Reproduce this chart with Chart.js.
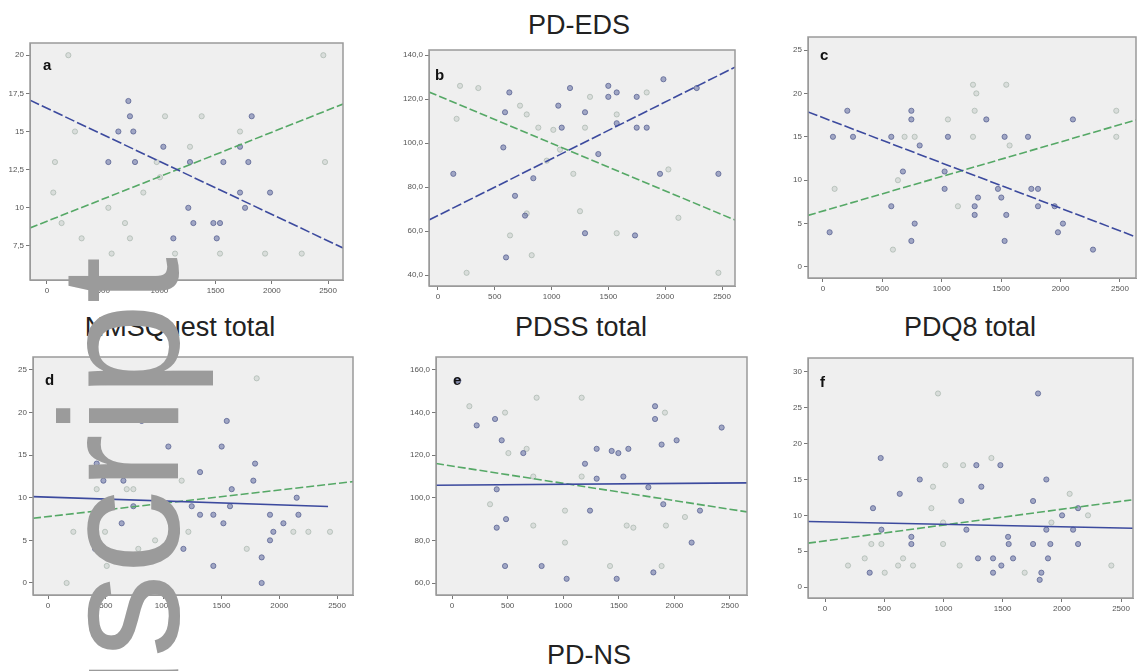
<!DOCTYPE html>
<html>
<head>
<meta charset="utf-8">
<script src="https://cdn.jsdelivr.net/npm/chart.js@4.4.1/dist/chart.umd.min.js"></script>
<style>
  body { margin: 0; width: 1138px; height: 671px; overflow: hidden; background: #fff; position: relative;
         font-family: 'Liberation Sans', Arial, sans-serif; }
  canvas { position: absolute; }
  .ttl { position: absolute; font-size: 27px; line-height: 1; color: #222; white-space: nowrap; transform: translateX(-50%); }
  .lt { position: absolute; font-size: 15px; line-height: 1; font-weight: bold; color: #111; }
  #wm { position: absolute; left: 0; top: 0; font-size: 168px; line-height: 1; color: #9b9b9b;
        white-space: nowrap; transform-origin: 0 0; z-index: 5; }
</style>
</head>
<body>
<div class="ttl" style="left:579px;top:12px">PD-EDS</div>
<div class="ttl" style="left:180px;top:314px">NMSQuest total</div>
<div class="ttl" style="left:581px;top:314px">PDSS total</div>
<div class="ttl" style="left:970px;top:314px">PDQ8 total</div>
<div class="ttl" style="left:589px;top:642px">PD-NS</div>

<canvas id="pa"></canvas><canvas id="pb"></canvas><canvas id="pc"></canvas>
<canvas id="pd"></canvas><canvas id="pe"></canvas><canvas id="pf"></canvas>

<div class="lt" style="left:43px;top:57px">a</div>
<div class="lt" style="left:435px;top:67px">b</div>
<div class="lt" style="left:820px;top:47px">c</div>
<div class="lt" style="left:45px;top:372px">d</div>
<div class="lt" style="left:453px;top:372px">e</div>
<div class="lt" style="left:820px;top:374px">f</div>

<div id="wm"><span id="wmPre">Author Manu</span>script</div>

<script>
// tick labels
const xTicks = [0, 500, 1000, 1500, 2000, 2500];
const yTicksA = [7.5, 10, 12.5, 15, 17.5, 20];
const yTicksB = [40, 60, 80, 100, 120, 140];
const yTicksC = [0, 5, 10, 15, 20, 25];
const yTicksD = [0, 5, 10, 15, 20, 25];
const yTicksE = [60, 80, 100, 120, 140, 160];
const yTicksF = [0, 5, 10, 15, 20, 25, 30];

// panel a
const aBlue = [[724,17],[738,16],[1821,16],[635,15],[768,15],[1035,14],[1717,14],[546,13],[783,13],[1272,13],[1569,13],[1791,13],
  [1717,11],[1984,11],[1257,10],[1762,10],[1302,9],[1480,9],[1539,9],[1124,8],[1510,8]];
const aGreen = [[190,20],[2458,20],[1050,16],[1376,16],[249,15],[1717,15],[1272,14],[71,13],[976,13],[2473,13],[1005,12],[56,11],
  [857,11],[546,10],[130,9],[694,9],[308,8],[738,8],[575,7],[1139,7],[1539,7],[1940,7],[2266,7]];
const aBlueFit = [[-151,17.05],[2633,7.37]];
const aGreenFit = [[-151,8.68],[2633,16.8]];

// panel b
const bBlue = [[135,86],[590,114],[628,123],[1059,117],[1089,107],[1162,125],[1294,114],[1411,95],[1499,126],[1573,123],[1499,121],
  [1573,109],[1749,121],[1749,107],[1837,107],[1954,86],[1984,129],[2277,125],[2468,86],[678,76],[766,67],[839,84],[1294,59],
  [1734,58],[575,98],[599,48]];
const bGreen = [[194,126],[355,125],[722,117],[781,113],[1015,106],[1338,121],[1294,107],[1573,113],[1837,123],[164,111],[883,107],
  [1191,86],[2028,88],[781,68],[1250,69],[2116,66],[634,58],[1573,59],[825,49],[252,41],[2468,41],[1074,97],[957,92]];
const bBlueFit = [[-79,65],[2614,134.5]];
const bGreenFit = [[-79,123.2],[2614,65]];

// panel c
const cBlue = [[205,18],[84,15],[253,15],[744,18],[744,17],[814,14],[575,15],[1052,15],[1375,17],[1529,15],[1726,15],[1024,11],
  [1024,9],[673,11],[1473,9],[1754,9],[1810,9],[1501,8],[1305,8],[575,7],[1277,7],[1277,6],[1543,6],[1810,7],[1950,7],[772,5],
  [2020,5],[56,4],[744,3],[1529,3],[1978,4],[2273,2],[2104,17]];
const cGreen = [[687,15],[772,15],[1052,17],[1263,21],[1277,18],[1263,15],[1543,21],[1571,14],[2469,18],[2469,15],[631,10],[98,9],
  [1136,7],[589,2],[1291,20]];
const cBlueFit = [[-126,17.86],[2635,3.46]];
const cGreenFit = [[-126,5.94],[2635,16.94]];

// panel d
const dBlue = [[810,19],[1546,19],[1041,16],[1502,16],[421,14],[1791,14],[479,12],[652,12],[1315,13],[1776,12],[1589,11],[2151,10],
  [738,9],[1243,9],[1574,9],[1920,8],[2166,8],[1315,8],[1430,8],[1517,7],[2036,7],[637,7],[1949,6],[1920,5],[407,4],[1171,4],
  [1848,3],[1430,2],[1848,0]];
const dGreen = [[983,24],[1805,24],[1156,12],[421,11],[681,11],[738,11],[998,9],[219,6],[493,6],[1214,6],[2122,6],[2252,6],[2439,6],
  [926,5],[1719,4],[161,0],[508,2],[781,4]];
const dBlueFit = [[-130,10.13],[2422,8.96]];
const dGreenFit = [[-130,7.59],[2638,11.89]];

// panel e
const eBlue = [[57,155],[387,137],[222,134],[1826,143],[1826,137],[2425,133],[447,127],[2020,127],[1885,125],[641,121],[1301,123],
  [1436,122],[1496,121],[1586,123],[1196,116],[1301,109],[1541,110],[1766,105],[402,104],[1900,97],[2230,94],[486,90],[1241,94],
  [402,86],[2155,79],[477,68],[806,68],[1031,62],[1481,62],[1811,65]];
const eGreen = [[761,147],[1166,147],[156,143],[477,140],[1915,140],[507,121],[671,123],[1166,110],[731,110],[2095,91],[342,97],
  [1016,94],[731,87],[1571,87],[1631,86],[1924,87],[1016,79],[1885,68],[1421,68]];
const eBlueFit = [[-144,105.9],[2653,107]];
const eGreenFit = [[-144,116.1],[2653,93.4]];

// panel f
const fBlue = [[470,18],[1799,27],[1481,17],[1278,17],[800,15],[1869,15],[631,13],[1320,14],[405,11],[1757,12],[2137,11],[2002,10],
  [476,8],[1194,8],[1869,8],[2095,8],[729,7],[729,6],[1546,7],[1551,6],[1757,6],[1903,6],[2137,6],[1292,4],[1419,4],[1588,4],
  [1883,4],[377,2],[1419,2],[1827,2],[1813,1],[1489,3],[1151,12]];
const fGreen = [[954,27],[1016,17],[1166,17],[1405,18],[912,14],[2066,13],[898,11],[2221,10],[997,9],[1912,9],[391,6],[476,6],
  [997,6],[335,4],[659,4],[194,3],[617,3],[743,3],[1137,3],[2418,3],[504,2],[1686,2]];
const fBlueFit = [[-144,9.14],[2601,8.2]];
const fGreenFit = [[-144,6.12],[2587,12.15]];

const comma = v => String(v).replace('.', ',');
const comma1 = v => v.toFixed(1).replace('.', ',');
const plain = v => String(v);

// background + frame around the plot area
const framePlugin = {
  id: 'frame',
  beforeDraw(chart) {
    const { ctx, chartArea: c } = chart;
    ctx.save();
    ctx.fillStyle = '#efefef';
    ctx.fillRect(c.left, c.top, c.right - c.left, c.bottom - c.top);
    ctx.restore();
  },
  afterDraw(chart) {
    const { ctx, chartArea: c } = chart;
    ctx.save();
    ctx.strokeStyle = '#9a9a9a';
    ctx.lineWidth = 1.5;
    ctx.strokeRect(c.left, c.top, c.right - c.left, c.bottom - c.top);
    ctx.restore();
  }
};

const toXY = arr => arr.map(p => ({ x: p[0], y: p[1] }));

function panel(id, box, xr, yr, yTicks, fmt, blue, green, blueFit, greenFit, solidBlue) {
  const cv = document.getElementById(id);
  const w = box.r - box.l + 30 + 12, h = box.b - box.t + 10 + 20;
  cv.width = w; cv.height = h;
  cv.style.left = (box.l - 30) + 'px';
  cv.style.top = (box.t - 10) + 'px';
  cv.style.width = w + 'px'; cv.style.height = h + 'px';

  new Chart(cv, {
    type: 'scatter',
    data: {
      datasets: [
        { data: toXY(blueFit), showLine: true, pointRadius: 0, borderColor: '#3c4a9e', borderWidth: 1.6,
          borderDash: solidBlue ? [] : [10, 3] },
        { data: toXY(greenFit), showLine: true, pointRadius: 0, borderColor: '#55a866', borderWidth: 1.6,
          borderDash: [8, 3] },
        { data: toXY(blue), pointRadius: 2.6, pointBackgroundColor: 'rgba(95,105,160,0.55)',
          pointBorderColor: 'rgba(80,90,140,0.7)', pointBorderWidth: 1 },
        { data: toXY(green), pointRadius: 2.6, pointBackgroundColor: 'rgba(190,200,195,0.45)',
          pointBorderColor: 'rgba(160,175,165,0.6)', pointBorderWidth: 1 }
      ]
    },
    options: {
      responsive: false,
      animation: false,
      layout: { padding: { top: 10, right: 12, left: 0, bottom: 0 } },
      plugins: { legend: { display: false }, tooltip: { enabled: false } },
      scales: {
        x: {
          type: 'linear', min: xr[0], max: xr[1],
          afterBuildTicks: a => { a.ticks = xTicks.map(v => ({ value: v })); },
          afterFit: a => { a.height = 20; },
          grid: { drawOnChartArea: false, tickLength: 4, color: '#777' },
          border: { color: '#9a9a9a' },
          ticks: { font: { size: 8 }, color: '#555', padding: 2, maxRotation: 0, autoSkip: false, callback: plain }
        },
        y: {
          type: 'linear', min: yr[0], max: yr[1],
          afterBuildTicks: a => { a.ticks = yTicks.map(v => ({ value: v })); },
          afterFit: a => { a.width = 30; },
          grid: { drawOnChartArea: false, tickLength: 4, color: '#777' },
          border: { color: '#9a9a9a' },
          ticks: { font: { size: 8 }, color: '#555', padding: 2, autoSkip: false, callback: fmt }
        }
      }
    },
    plugins: [framePlugin]
  });
}

panel('pa', { l: 30, r: 343, t: 43, b: 280 }, [-151, 2633], [5.27, 20.8], yTicksA, comma, aBlue, aGreen, aBlueFit, aGreenFit, false);
panel('pb', { l: 429, r: 735, t: 50, b: 286 }, [-79, 2614], [35, 142.3], yTicksB, comma1, bBlue, bGreen, bBlueFit, bGreenFit, false);
panel('pc', { l: 808, r: 1136, t: 37, b: 278 }, [-126, 2635], [-1.27, 26.5], yTicksC, plain, cBlue, cGreen, cBlueFit, cGreenFit, false);
panel('pd', { l: 33, r: 353, t: 357, b: 595 }, [-130, 2638], [-1.41, 26.5], yTicksD, plain, dBlue, dGreen, dBlueFit, dGreenFit, true);
panel('pe', { l: 436, r: 747, t: 357, b: 595 }, [-144, 2653], [54.4, 166.1], yTicksE, comma1, eBlue, eGreen, eBlueFit, eGreenFit, true);
panel('pf', { l: 808, r: 1133, t: 358, b: 598 }, [-144, 2601], [-1.53, 31.95], yTicksF, plain, fBlue, fGreen, fBlueFit, fGreenFit, true);

// vertical watermark, baseline at x=178, "script" ending near the bottom edge
const wm = document.getElementById('wm');
const pre = document.getElementById('wmPre').offsetWidth;
wm.style.transform = 'translate(36px,' + (658 + pre) + 'px) rotate(-90deg)';
</script>
</body>
</html>
